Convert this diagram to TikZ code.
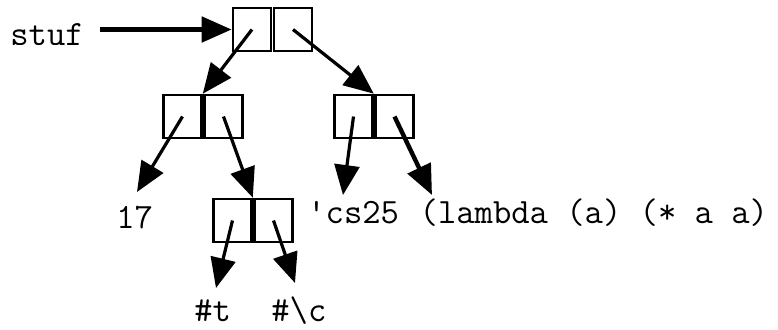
\documentclass[tikz,border=0pt]{standalone}
\usepackage{fontspec}
\usetikzlibrary{arrows.meta}

\tikzset{cell/.style={draw, line width=1.3pt, minimum width=19pt,
                      minimum height=21.5pt, inner sep=0pt},
         lbl/.style={font=\ttfamily\fontsize{17.8}{20}\selectfont,
                     inner sep=0pt, anchor=base west},
         ptr/.style={line width=1.6pt, -{Triangle[length=15pt,width=12.5pt]}}
         }

\begin{document}
\begin{tikzpicture}[x=0.5pt, y=-0.5pt]
    \useasboundingbox (0,0) rectangle (778,329);

    % cons cells
    \foreach \n/\x/\y in {a/252/29.5, b/182.5/116.5, c/353.5/116.5, d/232.5/220.5}{
        \node[cell] (\n l) at (\x,\y) {};
        \node[cell] (\n r) at (\x+41,\y) {};
    }

    % printed values
    \begin{scope}
        \clip (0,0) rectangle (778,44);
        \node[lbl] (stuf) at (10,45) {stuf};
    \end{scope}
    \node[lbl] (n17) at (116,228) {17};
    \node[lbl] (cs)  at (307,223) {\textquotesingle cs25};
    \node[lbl] (lam) at (419.3,223) {(lambda (a) (* a a)};
    \node[lbl] (sht) at (194,321) {\#t};
    \node[lbl] (shc) at (271,321) {\#\textbackslash c};

    \coordinate (t17) at (137,192);
    \coordinate (tcs) at (343,195);
    \coordinate (tlam) at (432,195);
    \coordinate (tsht) at (216,288);
    \coordinate (tshc) at (295,283);

    % pointers
    \draw[ptr, line width=2.5pt] ([xshift=8pt]stuf.east |- al.west) -- (al.west);
    \draw[ptr] (al.center) -- (bl.north east);
    \draw[ptr] (ar.center) -- (cl.north east);
    \draw[ptr] (bl.center) -- (t17);
    \draw[ptr] (br.center) -- (dl.north east);
    \draw[ptr] (cl.center) -- (tcs);
    \draw[ptr, line width=2.2pt] (cr.center) -- (tlam);
    \draw[ptr] (dl.center) -- (tsht);
    \draw[ptr] (dr.center) -- (tshc);
\end{tikzpicture}
\end{document}
